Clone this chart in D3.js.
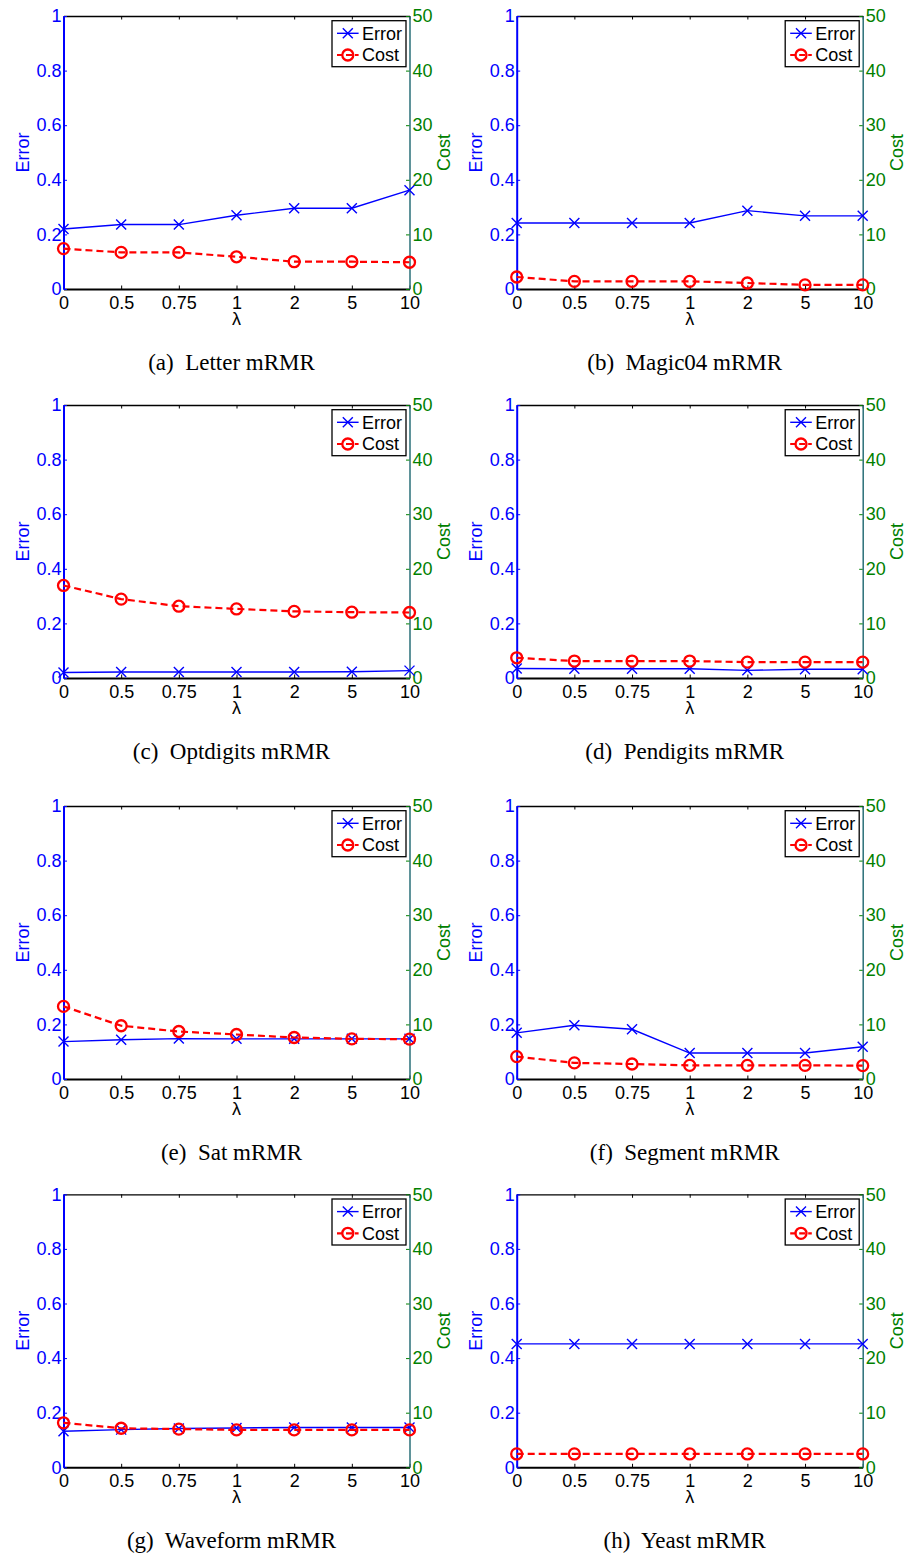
<!DOCTYPE html>
<html>
<head>
<meta charset="utf-8">
<script src="https://cdn.jsdelivr.net/npm/d3@7.9.0/dist/d3.min.js"></script>
<style>
  html, body { margin: 0; padding: 0; background: #fff; }
  svg { display: block; }
  text { font-family: "Liberation Sans", Arial, sans-serif; }
  .caption { font-family: "Liberation Serif", "Times New Roman", serif; white-space: pre; }
</style>
</head>
<body>
<div id="chart"></div>
<script>
// data
const lambdas = ["0", "0.5", "0.75", "1", "2", "5", "10"];
const errorTicks = [0, 0.2, 0.4, 0.6, 0.8, 1];
const costTicks = [0, 10, 20, 30, 40, 50];

const captions = [
  "(a)  Letter mRMR", "(b)  Magic04 mRMR",
  "(c)  Optdigits mRMR", "(d)  Pendigits mRMR",
  "(e)  Sat mRMR", "(f)  Segment mRMR",
  "(g)  Waveform mRMR", "(h)  Yeast mRMR"
];

const letterError = [0.22, 0.236, 0.236, 0.27, 0.296, 0.296, 0.362];
const letterCost = [7.4, 6.7, 6.7, 5.9, 5.0, 5.0, 4.9];
const magicError = [0.242, 0.242, 0.242, 0.242, 0.287, 0.268, 0.268];
const magicCost = [2.2, 1.4, 1.4, 1.4, 1.1, 0.75, 0.75];
const optdigitsError = [0.02, 0.022, 0.022, 0.022, 0.022, 0.023, 0.027];
const optdigitsCost = [16.95, 14.45, 13.15, 12.65, 12.2, 12.05, 12.0];
const pendigitsError = [0.035, 0.034, 0.034, 0.034, 0.028, 0.032, 0.032];
const pendigitsCost = [3.7, 3.1, 3.1, 3.1, 2.9, 2.9, 2.9];
const satError = [0.137, 0.144, 0.148, 0.147, 0.147, 0.147, 0.147];
const satCost = [13.3, 9.75, 8.7, 8.15, 7.6, 7.35, 7.3];
const segmentError = [0.169, 0.197, 0.182, 0.095, 0.095, 0.095, 0.118];
const segmentCost = [4.1, 2.95, 2.75, 2.5, 2.5, 2.5, 2.45];
const waveformError = [0.132, 0.138, 0.142, 0.144, 0.146, 0.146, 0.146];
const waveformCost = [8.15, 7.15, 7.0, 6.85, 6.85, 6.85, 6.85];
const yeastError = [0.452, 0.452, 0.452, 0.452, 0.452, 0.452, 0.452];
const yeastCost = [2.45, 2.45, 2.45, 2.45, 2.45, 2.45, 2.45];

const panels = [
  { error: letterError, cost: letterCost },
  { error: magicError, cost: magicCost },
  { error: optdigitsError, cost: optdigitsCost },
  { error: pendigitsError, cost: pendigitsCost },
  { error: satError, cost: satCost },
  { error: segmentError, cost: segmentCost },
  { error: waveformError, cost: waveformCost },
  { error: yeastError, cost: yeastCost }
].map((p, i) => ({ ...p, caption: captions[i] }));

// layout
const width = 908,
  height = 1556;
const colLeft = [63.5, 516.7];
const rowTop = [16, 405, 806, 1194.3];
const pw = 346,
  ph = 273;

const blue = "#0000ff",
  red = "#ff0000",
  green = "#008000";

const svg = d3
  .select("#chart")
  .append("svg")
  .attr("width", width)
  .attr("height", height)
  .attr("viewBox", `0 0 ${width} ${height}`);

svg.append("rect").attr("width", width).attr("height", height).attr("fill", "#fff");

const x = d3.scalePoint().domain(lambdas).range([0, pw]).padding(0);
const yErr = d3.scaleLinear().domain([0, 1]).range([ph, 0]);
const yCost = d3.scaleLinear().domain([0, 50]).range([ph, 0]);

function crossPath(s) {
  return `M${-s},${-s}L${s},${s}M${-s},${s}L${s},${-s}`;
}

panels.forEach((p, i) => {
  const g = svg
    .append("g")
    .attr("transform", `translate(${colLeft[i % 2]},${rowTop[Math.floor(i / 2)]})`);

  // top border with ticks
  g.append("g")
    .call(d3.axisTop(x).tickSizeInner(-3.5).tickSizeOuter(0).tickFormat(""))
    .call((a) => a.select(".domain").attr("stroke", "#000").attr("stroke-width", 1.3))
    .call((a) => a.selectAll(".tick line").attr("stroke", "#000"));

  // bottom axis
  g.append("g")
    .attr("transform", `translate(0,${ph})`)
    .call(d3.axisBottom(x).tickSizeInner(-3.5).tickSizeOuter(0).tickPadding(7))
    .call((a) => a.select(".domain").attr("stroke", "#000").attr("stroke-width", 2))
    .call((a) => a.selectAll(".tick line").attr("stroke", "#000"))
    .call((a) => a.selectAll("text").attr("fill", "#000").style("font-size", "18px").style("font-family", "Liberation Sans, Arial, sans-serif"));

  // right axis (cost)
  g.append("g")
    .attr("transform", `translate(${pw},0)`)
    .call(d3.axisRight(yCost).tickValues(costTicks).tickSizeInner(-3.5).tickSizeOuter(0).tickPadding(3).tickFormat(d3.format("d")))
    .call((a) => a.select(".domain").attr("stroke", "#2a6f78").attr("stroke-width", 1.5))
    .call((a) => a.selectAll(".tick line").attr("stroke", green))
    .call((a) => a.selectAll("text").attr("fill", green).style("font-size", "18px").style("font-family", "Liberation Sans, Arial, sans-serif"));

  // left axis (error)
  g.append("g")
    .call(d3.axisLeft(yErr).tickValues(errorTicks).tickSizeInner(-3.5).tickSizeOuter(0).tickPadding(2).tickFormat((d) => String(d)))
    .call((a) => a.select(".domain").attr("stroke", blue).attr("stroke-width", 2))
    .call((a) => a.selectAll(".tick line").attr("stroke", blue))
    .call((a) => a.selectAll("text").attr("fill", blue).style("font-size", "18px").style("font-family", "Liberation Sans, Arial, sans-serif"));

  // axis labels
  g.append("text")
    .attr("transform", `translate(-35,${ph / 2}) rotate(-90)`)
    .attr("text-anchor", "middle")
    .attr("fill", blue)
    .style("font-size", "18px")
    .text("Error");

  g.append("text")
    .attr("transform", `translate(${pw + 40.5},${ph / 2}) rotate(-90)`)
    .attr("text-anchor", "middle")
    .attr("fill", green)
    .style("font-size", "18px")
    .text("Cost");

  g.append("text")
    .attr("x", pw / 2)
    .attr("y", ph + 36)
    .attr("text-anchor", "middle")
    .attr("fill", "#000")
    .style("font-size", "18px")
    .text("λ");

  // error line
  const errLine = d3
    .line()
    .x((d, j) => x(lambdas[j]))
    .y((d) => yErr(d));
  g.append("path")
    .datum(p.error)
    .attr("d", errLine)
    .attr("fill", "none")
    .attr("stroke", blue)
    .attr("stroke-width", 1.4);
  g.selectAll(".err-mark")
    .data(p.error)
    .join("path")
    .attr("class", "err-mark")
    .attr("transform", (d, j) => `translate(${x(lambdas[j])},${yErr(d)})`)
    .attr("d", crossPath(5))
    .attr("fill", "none")
    .attr("stroke", blue)
    .attr("stroke-width", 1.4);

  // cost line
  const costLine = d3
    .line()
    .x((d, j) => x(lambdas[j]))
    .y((d) => yCost(d));
  g.append("path")
    .datum(p.cost)
    .attr("d", costLine)
    .attr("fill", "none")
    .attr("stroke", red)
    .attr("stroke-width", 2.2)
    .attr("stroke-dasharray", "7,4");
  g.selectAll(".cost-mark")
    .data(p.cost)
    .join("circle")
    .attr("class", "cost-mark")
    .attr("cx", (d, j) => x(lambdas[j]))
    .attr("cy", (d) => yCost(d))
    .attr("r", 5.5)
    .attr("fill", "none")
    .attr("stroke", red)
    .attr("stroke-width", 2.3);

  // legend
  const lg = g.append("g").attr("transform", `translate(${pw - 77.5},4.7)`);
  lg.append("rect")
    .attr("width", 74)
    .attr("height", 46)
    .attr("fill", "#fff")
    .attr("stroke", "#000")
    .attr("stroke-width", 1.3);
  const entries = [
    { name: "Error", color: blue, dash: null, mark: "x", y: 12.6 },
    { name: "Cost", color: red, dash: "6,3", mark: "o", y: 34.3 }
  ];
  entries.forEach((e) => {
    lg.append("line")
      .attr("x1", 5)
      .attr("x2", 26.6)
      .attr("y1", e.y)
      .attr("y2", e.y)
      .attr("stroke", e.color)
      .attr("stroke-width", e.mark === "o" ? 2.2 : 1.4)
      .attr("stroke-dasharray", e.dash);
    if (e.mark === "x") {
      lg.append("path")
        .attr("transform", `translate(15.8,${e.y})`)
        .attr("d", crossPath(5))
        .attr("stroke", e.color)
        .attr("stroke-width", 1.4);
    } else {
      lg.append("circle")
        .attr("cx", 15.8)
        .attr("cy", e.y)
        .attr("r", 5.5)
        .attr("fill", "none")
        .attr("stroke", e.color)
        .attr("stroke-width", 2.3);
    }
    lg.append("text")
      .attr("x", 30)
      .attr("y", e.y)
      .attr("dy", "0.35em")
      .attr("fill", "#000")
      .style("font-size", "18px")
      .text(e.name);
  });

  // caption
  g.append("text")
    .attr("class", "caption")
    .attr("x", pw / 2 - 5)
    .attr("y", ph + 81)
    .attr("text-anchor", "middle")
    .attr("fill", "#000")
    .style("font-size", "23px")
    .text(p.caption);
});
</script>
</body>
</html>
